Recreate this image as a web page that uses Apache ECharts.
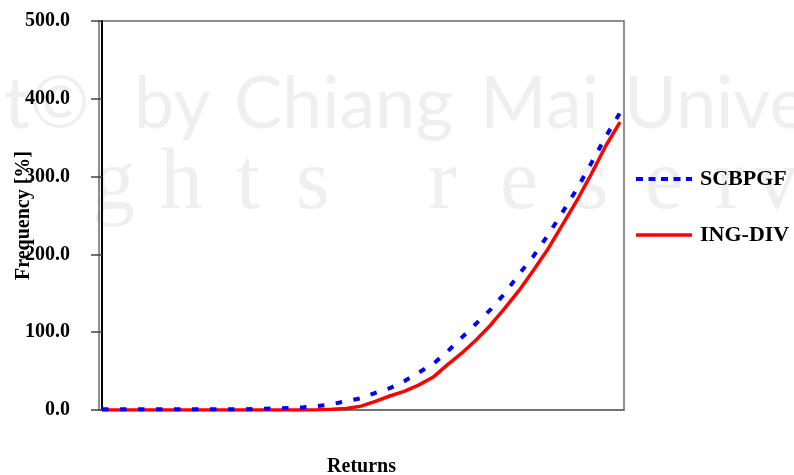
<!DOCTYPE html>
<html>
<head>
<meta charset="utf-8">
<script src="https://cdn.jsdelivr.net/npm/echarts@6/dist/echarts.min.js"></script>
<style>html,body{margin:0;padding:0;background:#fff}#c{width:794px;height:475px}</style>
</head>
<body>
<div id="c"></div>
<script>
// Return-class index (categories, unlabeled in the reference)
var returnIdx = [0,1,2,3,4,5,6,7,8,9,10,11,12,13,14,15,16,17,18,19,20,21,22,23,24,25,26,27,28,29,30,31,32,33,34,35,36];
var scbpgf = [1,1,1,1,1,1,1,1,1,1,1,1.5,2,2.5,3.5,5,7.5,11.5,15,22,28,37,48,59,75,93,111,129,150,175,198,225,254,284,317,351,382];
var ingdiv = [0,0,0,0,0,0,0,0,0,0,0,0,0,0,0,0.3,1,2,5,11,18,24,32,42,58,73,90,109,131,154,180,207,238,269,303,339,370];
var yTicks = [0,100,200,300,400,500];
var seriesNames = ['SCBPGF','ING-DIV'];

var chart = echarts.init(document.getElementById('c'), null, {renderer:'canvas'});
var serif = '"Liberation Serif","Times New Roman",serif';
var wm = '#efefef';
function wmText(t, x, y, size, font){
  return {type:'text', z:-10, silent:true, left:x, top:y,
    style:{text:t, fill:wm, font:'400 '+size+'px '+font}};
}
var option = {
  backgroundColor:'#ffffff',
  animation:false,
  graphic:[
    wmText('t©', 4, 69, 72, 'Lato, sans-serif'),
    wmText('by', 134, 69, 72, 'Lato, sans-serif'),
    wmText('Chiang', 234, 69, 72, 'Lato, sans-serif'),
    wmText('Mai', 480, 69, 72, 'Lato, sans-serif'),
    wmText('Unive', 624, 69, 72, 'Lato, sans-serif'),
    wmText('g', 92, 142, 86, serif),
    wmText('h', 160, 142, 86, serif),
    wmText('t', 236, 142, 86, serif),
    wmText('s', 296, 142, 86, serif),
    wmText('r', 428, 142, 86, serif),
    wmText('e', 500, 142, 86, serif),
    wmText('s', 575, 142, 86, serif),
    wmText('e', 645, 142, 86, serif),
    wmText('r', 715, 142, 86, serif),
    wmText('v', 755, 142, 86, serif)
  ],
  grid:{left:99, top:21, right:170, bottom:65, containLabel:false, outerBoundsMode:'none',
    show:true, borderColor:'#6b6b6b', borderWidth:1.5, backgroundColor:'transparent'},
  legend:{
    orient:'vertical', left:629, top:163, itemWidth:56, itemHeight:14, itemGap:34,
    itemStyle:{color:'transparent', borderWidth:0, opacity:0},
    textStyle:{fontFamily:serif, fontWeight:'bold', fontSize:22, color:'#000', lineHeight:22, padding:[0,0,0,3]},
    data:[
      {name:seriesNames[0], lineStyle:{type:[7,5.5], width:4, color:'#0000ff'}},
      {name:seriesNames[1], lineStyle:{type:'solid', width:3.5, color:'#ff0000'}}
    ]
  },
  xAxis:{
    type:'value', min:-0.21, max:36.28,
    name:'Returns', nameLocation:'middle', nameGap:47,
    nameTextStyle:{fontFamily:serif, fontWeight:'bold', fontSize:20, color:'#000'},
    axisLine:{show:true, lineStyle:{color:'#6b6b6b', width:1.5}},
    axisTick:{show:false}, axisLabel:{show:false}, splitLine:{show:false}
  },
  yAxis:{
    type:'value', min:0, max:500, interval:100,
    name:'Frequency [%]', nameLocation:'middle', nameGap:65, nameRotate:90, nameMoveOverlap:false,
    nameTextStyle:{fontFamily:serif, fontWeight:'bold', fontSize:20, color:'#000'},
    axisLine:{show:true, lineStyle:{color:'#000', width:2}},
    axisTick:{show:true, inside:false, length:11, lineStyle:{color:'#444', width:1.5}},
    axisLabel:{margin:29, fontFamily:serif, fontWeight:'bold', fontSize:20, color:'#000',
      formatter:function(v){return yTicks.indexOf(v)>=0 ? v.toFixed(1) : '';}},
    splitLine:{show:false}
  },
  series:[
    {name:seriesNames[0], type:'line', z:3, showSymbol:false, symbol:'none', smooth:false,
     data:returnIdx.map(function(x,i){return [x, scbpgf[i]];}),
     lineStyle:{color:'#0000ff', width:4, type:[6.5,11.5]}, itemStyle:{color:'#0000ff'}},
    {name:seriesNames[1], type:'line', z:2, showSymbol:false, symbol:'none', smooth:false,
     data:returnIdx.map(function(x,i){return [x, ingdiv[i]];}),
     lineStyle:{color:'#ff0000', width:3.5, type:'solid'}, itemStyle:{color:'#ff0000'}}
  ]
};
chart.setOption(option);
</script>
</body>
</html>
